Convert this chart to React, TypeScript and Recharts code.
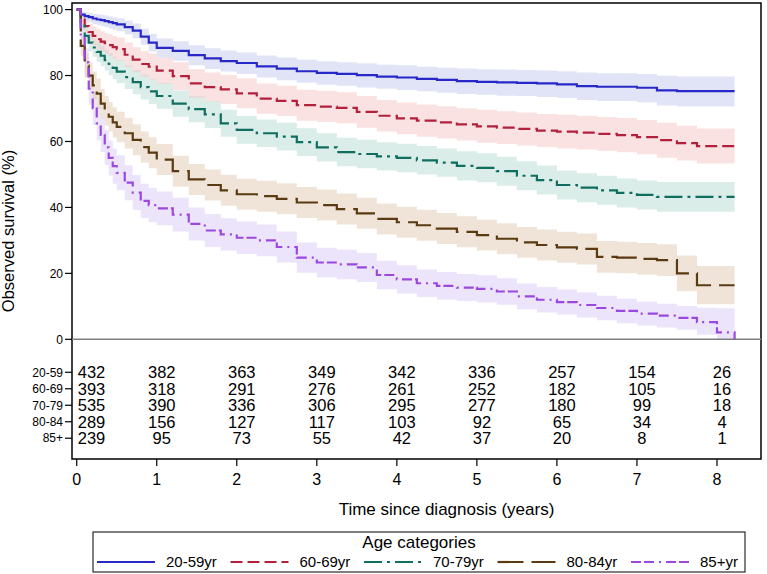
import React from "react";
import {
  ComposedChart, Line, Area, Scatter, XAxis, YAxis, ReferenceLine, ReferenceArea,
} from "recharts";

/* ── Kaplan-Meier estimates (%) ────────────────────────────── */
const TIME = [
  0, 0.05, 0.1, 0.15, 0.2, 0.25, 0.3, 0.35, 0.4, 0.45, 0.5, 0.6, 0.7, 0.8, 0.9, 1.0,
  1.2, 1.4, 1.6, 1.8, 2.0,
  2.25, 2.5, 2.75, 3.0, 3.25, 3.5, 3.75, 4.0, 4.25, 4.5, 4.75, 5.0,
  5.25, 5.5, 5.75, 6.0, 6.25, 6.5, 6.75, 7.0, 7.25, 7.5, 7.75, 8.0, 8.22,
];

const S_2059 = [100, 98.5, 98, 97.7, 97.3, 97, 96.8, 96.5, 96.2, 95.9, 95.5, 94.7, 93.6, 91.8, 90, 88.4, 87.5, 86.2, 85.2, 84.4, 83.8, 82.8, 82.1, 81.3, 80.8, 80.5, 80.1, 79.7, 79.4, 79, 78.7, 78.3, 78.1, 77.9, 77.8, 77.6, 77.3, 76.8, 76.6, 76.6, 76.3, 75.5, 75.3, 75.3, 75.3, 75.3];
const HI_2059 = [100, 99.5, 99.2, 99, 98.7, 98.6, 98.4, 98.2, 97.9, 97.7, 97.4, 96.7, 95.8, 94.2, 92.6, 91.2, 90.4, 89.2, 88.3, 87.6, 87, 86.1, 85.5, 84.8, 84.3, 84, 83.7, 83.3, 83.1, 82.7, 82.4, 82.1, 81.9, 81.8, 81.7, 81.5, 81.3, 80.9, 80.7, 80.7, 80.5, 79.9, 79.7, 79.7, 79.7, 79.7];
const LO_2059 = [100, 97.3, 96.6, 96.1, 95.6, 95.3, 95, 94.7, 94.3, 93.9, 93.4, 92.5, 91.3, 89.3, 87.3, 85.5, 84.5, 83.1, 82, 81.2, 80.5, 79.4, 78.6, 77.8, 77.2, 76.9, 76.4, 76, 75.6, 75.2, 74.8, 74.4, 74.2, 73.9, 73.8, 73.5, 73.2, 72.6, 72.3, 72.3, 71.9, 70.9, 70.6, 70.6, 70.6, 70.6];

const S_6069 = [100, 97, 95, 93.2, 92, 91, 90.3, 89.8, 89.2, 88.6, 88, 86.3, 84.8, 83.5, 82.7, 81.5, 79.8, 77.6, 76.5, 75.8, 74.6, 73, 72.3, 71, 70.6, 70.2, 69, 67.8, 67, 66.3, 65.8, 65.2, 64.6, 64.2, 63.8, 63.3, 63, 62.7, 62.3, 61.9, 61.3, 60.4, 59.5, 58.6, 58.6, 58.6];
const HI_6069 = [100, 98.6, 97.1, 95.7, 94.8, 94.1, 93.4, 93, 92.5, 92, 91.5, 90, 88.6, 87.4, 86.7, 85.5, 84, 81.9, 80.9, 80.2, 79.1, 77.6, 76.9, 75.7, 75.3, 74.9, 73.8, 72.6, 71.8, 71.2, 70.7, 70.1, 69.6, 69.2, 68.8, 68.3, 68.1, 67.8, 67.4, 67.1, 66.5, 65.7, 64.8, 63.9, 63.9, 63.9];
const LO_6069 = [100, 95.4, 92.9, 90.7, 89.2, 87.9, 87.2, 86.6, 85.9, 85.2, 84.5, 82.6, 81, 79.6, 78.7, 77.5, 75.6, 73.3, 72.1, 71.4, 70.1, 68.4, 67.7, 66.3, 65.9, 65.5, 64.2, 63, 62.2, 61.4, 60.9, 60.3, 59.6, 59.2, 58.8, 58.3, 57.9, 57.6, 57.2, 56.7, 56.1, 55.1, 54.2, 53.3, 53.3, 53.3];

const S_7079 = [100, 95.5, 92, 90, 88.5, 87.2, 86, 84.7, 83.5, 82.3, 81.2, 79.5, 78, 76.5, 75.2, 73.8, 71.5, 69.8, 68.2, 65.5, 63.5, 62.5, 61.5, 59.8, 58.2, 56.8, 56.2, 55.5, 55, 54.3, 53.6, 52.6, 52, 51, 49.6, 48.3, 46.8, 46, 45.2, 44.4, 43.8, 43.2, 43.2, 43.2, 43.2, 43.2];
const HI_7079 = [100, 97.3, 94.3, 92.6, 91.3, 90.2, 89.1, 87.9, 86.8, 85.7, 84.7, 83.1, 81.7, 80.3, 79, 77.7, 75.5, 73.8, 72.3, 69.6, 67.7, 66.7, 65.7, 64, 62.5, 61.1, 60.5, 59.8, 59.3, 58.6, 57.9, 57, 56.4, 55.4, 54, 52.7, 51.2, 50.4, 49.6, 48.8, 48.2, 47.7, 47.7, 47.7, 47.7, 47.7];
const LO_7079 = [100, 93.7, 89.7, 87.4, 85.7, 84.2, 82.9, 81.5, 80.2, 78.9, 77.7, 75.9, 74.3, 72.7, 71.4, 69.9, 67.5, 65.8, 64.1, 61.4, 59.3, 58.3, 57.3, 55.6, 53.9, 52.5, 51.9, 51.2, 50.7, 50, 49.3, 48.2, 47.6, 46.6, 45.2, 43.9, 42.4, 41.6, 40.8, 40, 39.4, 38.7, 38.7, 38.7, 38.7, 38.7];

const S_8084 = [100, 89, 83, 80, 77, 74.5, 71.5, 69.3, 67.5, 65.8, 64.4, 62.5, 60.5, 58.3, 56.6, 54.5, 51, 48.5, 46.8, 45.2, 44, 43.4, 42.6, 41.5, 40.7, 39.5, 38.2, 36.5, 35.5, 34.6, 33.6, 32.6, 31.6, 30.5, 29.4, 28.6, 27.9, 27.4, 25, 24.8, 24.4, 24, 20, 16.4, 16.4, 16.4];
const HI_8084 = [100, 92, 86.7, 84, 81.2, 79.1, 75.9, 73.8, 72, 70.4, 69, 67.1, 65.2, 63, 61.3, 59.2, 55.7, 53.2, 51.5, 49.9, 48.7, 48.1, 47.3, 46.2, 45.4, 44.2, 42.9, 41.2, 40.2, 39.3, 38.3, 37.3, 36.3, 35.2, 34.1, 33.3, 32.6, 32.1, 29.8, 29.6, 29.2, 28.8, 25.4, 22.2, 22.2, 22.2];
const LO_8084 = [100, 86, 79.3, 76, 72.8, 69.9, 67.1, 64.8, 63, 61.2, 59.8, 57.9, 55.8, 53.6, 51.9, 49.8, 46.3, 43.8, 42.1, 40.5, 39.3, 38.7, 37.9, 36.8, 36, 34.8, 33.5, 31.8, 30.8, 29.9, 28.9, 27.9, 26.9, 25.8, 24.7, 23.9, 23.2, 22.7, 20.2, 20, 19.6, 19.2, 14.6, 10.6, 10.6, 10.6];

const S_85 = [100, 92, 84, 76, 70, 65.5, 62, 58.2, 55, 52.5, 50.5, 47.5, 44.5, 42, 40.7, 39.7, 37.8, 35, 33, 31.8, 30.8, 30, 28, 24.8, 23.3, 22.7, 21.8, 19.5, 18.2, 17, 16.2, 15.7, 15.3, 14.5, 13, 12, 11.3, 10.4, 9.5, 8.6, 7.8, 7.2, 6.5, 5.2, 2.1, 0];
const HI_85 = [100, 95.5, 88.3, 80.8, 75, 70.6, 67.2, 63.5, 60.3, 57.8, 55.8, 52.8, 49.8, 47.2, 45.9, 44.8, 42.9, 40, 38, 36.7, 35.7, 34.8, 32.7, 29.4, 27.8, 27.2, 26.2, 23.8, 22.5, 21.2, 20.4, 19.8, 19.4, 18.5, 16.9, 15.9, 15.1, 14.2, 13.2, 12.3, 11.4, 10.8, 10.1, 9.6, 9.4, 9.4];
const LO_85 = [100, 88.5, 79.7, 71.2, 65, 60.4, 56.8, 52.9, 49.7, 47.2, 45.2, 42.2, 39.2, 36.8, 35.5, 34.6, 32.7, 30, 28, 26.9, 25.9, 25.2, 23.3, 20.2, 18.8, 18.2, 17.4, 15.2, 13.9, 12.8, 12, 11.6, 11.2, 10.5, 9.1, 8.1, 7.5, 6.6, 5.8, 4.9, 4.2, 3.6, 2.9, 1.4, 0, 0];

/* ── Number at risk ────────────────────────────────────────── */
const RISK_TIMES = [0, 1, 2, 3, 4, 5, 6, 7, 8];
const RISK_2059 = [432, 382, 363, 349, 342, 336, 257, 154, 26];
const RISK_6069 = [393, 318, 291, 276, 261, 252, 182, 105, 16];
const RISK_7079 = [535, 390, 336, 306, 295, 277, 180, 99, 18];
const RISK_8084 = [289, 156, 127, 117, 103, 92, 65, 34, 4];
const RISK_85 = [239, 95, 73, 55, 42, 37, 20, 8, 1];

const ROW_LABELS = ["20-59", "60-69", "70-79", "80-84", "85+"];
const Y_TICKS = [0, 20, 40, 60, 80, 100];
const X_TICKS = [0, 1, 2, 3, 4, 5, 6, 7, 8];

const FONT = "'Liberation Sans', Arial, Helvetica, sans-serif";
const X_MIN = -0.059;
const X_MAX = 8.55;
const Y_MIN = -36.3;
const Y_MAX = 102;
// rows of the risk table sit under the 0 line, 5 units apart
const rowY = (i: number) => -10 - 5 * i;

const groups = [
  { key: "g1", name: "20-59yr", color: "#2828c8", band: "#c3c9ed", dash: undefined, s: S_2059, lo: LO_2059, hi: HI_2059, risk: RISK_2059 },
  { key: "g2", name: "60-69yr", color: "#b2203c", band: "#f5c5c5", dash: "12 5", s: S_6069, lo: LO_6069, hi: HI_6069, risk: RISK_6069 },
  { key: "g3", name: "70-79yr", color: "#0f6e60", band: "#b5dbd3", dash: "18 5 3 5", s: S_7079, lo: LO_7079, hi: HI_7079, risk: RISK_7079 },
  { key: "g4", name: "80-84yr", color: "#5a3a10", band: "#e1c9b3", dash: "26 8", s: S_8084, lo: LO_8084, hi: HI_8084, risk: RISK_8084 },
  { key: "g5", name: "85+yr", color: "#9a48e0", band: "#d9c9f5", dash: "10 3 10 5 2 5", s: S_85, lo: LO_85, hi: HI_85, risk: RISK_85 },
];

const chartData = TIME.map((t, i) => {
  const row: Record<string, any> = { t };
  groups.forEach((g) => {
    row[g.key] = g.s[i];
    row[g.key + "ci"] = [g.lo[i], g.hi[i]];
  });
  return row;
});

const yTickFormat = (v: number) => {
  if (v < 0) return ROW_LABELS[Math.round((-v - 10) / 5)] ?? "";
  return String(v);
};

const XTitle = (props: any) => {
  const vb = props.viewBox || { x: 72, y: 459, width: 689 };
  return (
    <text x={vb.x + vb.width / 2 + 30} y={vb.y + 56} textAnchor="middle" fontFamily={FONT} fontSize={17} fill="#000">
      Time since diagnosis (years)
    </text>
  );
};

const YTitle = (props: any) => {
  const vb = props.viewBox || { x: 0, y: 3, width: 72, height: 456 };
  const cy = vb.y + vb.height / 2;
  return (
    <text x={14} y={cy} transform={`rotate(-90, 14, ${cy})`} textAnchor="middle" fontFamily={FONT} fontSize={16.5} fill="#000">
      Observed survival (%)
    </text>
  );
};

const riskShape = (props: any) => {
  const { cx, cy, payload } = props;
  const first = payload.t === 0;
  return (
    <text
      x={first ? cx + 1 : cx + 5}
      y={cy}
      dy="0.36em"
      textAnchor={first ? "start" : "middle"}
      fontFamily={FONT}
      fontSize={16.5}
      fill="#000"
    >
      {payload.n}
    </text>
  );
};

function LegendBox() {
  return (
    <svg width={767} height={574} style={{ position: "absolute", left: 0, top: 0, pointerEvents: "none" }}>
      <rect x={93} y={532} width={652} height={40} fill="#fff" stroke="#000" strokeWidth={1} />
      <text x={419} y={548} textAnchor="middle" fontFamily={FONT} fontSize={17} fill="#000">
        Age categories
      </text>
      {groups.map((g, i) => {
        const x0 = 97 + i * 133.5;
        return (
          <g key={g.key}>
            <line x1={x0} x2={x0 + 58} y1={562} y2={562} stroke={g.color} strokeWidth={2.2} strokeDasharray={g.dash} />
            <text x={x0 + 69} y={567} fontFamily={FONT} fontSize={15} fill="#000">
              {g.name}
            </text>
          </g>
        );
      })}
    </svg>
  );
}

export default function App() {
  return (
    <div style={{ position: "relative", width: 767, height: 574, background: "#fff" }}>
      <style>{"body{margin:0}"}</style>
      <ComposedChart
        width={767}
        height={574}
        data={chartData}
        margin={{ top: 3, right: 6, bottom: 0, left: 0 }}
      >
        <XAxis
          dataKey="t"
          type="number"
          domain={[X_MIN, X_MAX]}
          ticks={X_TICKS}
          interval={0}
          allowDataOverflow
          height={115}
          axisLine={false}
          tickSize={7}
          tickMargin={8}
          tickLine={{ stroke: "#000", strokeWidth: 1.2 }}
          tick={{ fontSize: 16, fill: "#000", fontFamily: FONT }}
          label={<XTitle />}
        />
        <YAxis
          type="number"
          domain={[Y_MIN, Y_MAX]}
          ticks={[...ROW_LABELS.map((_, i) => rowY(i)), ...Y_TICKS]}
          interval={0}
          allowDataOverflow
          width={72}
          axisLine={false}
          tickSize={7}
          tickMargin={2}
          tickLine={{ stroke: "#000", strokeWidth: 1.2 }}
          tick={{ fontSize: 12, fill: "#000", fontFamily: FONT }}
          tickFormatter={yTickFormat}
          label={<YTitle />}
        />

        {[...groups].reverse().map((g) => (
          <Area
            key={g.key + "ci"}
            dataKey={g.key + "ci"}
            type="stepAfter"
            stroke="none"
            fill={g.band}
            fillOpacity={0.5}
            isAnimationActive={false}
            activeDot={false}
          />
        ))}

        <ReferenceLine y={0} stroke="#808080" strokeWidth={1.5} />

        {groups.map((g) => (
          <Line
            key={g.key}
            dataKey={g.key}
            type="stepAfter"
            stroke={g.color}
            strokeWidth={2.2}
            strokeDasharray={g.dash}
            dot={false}
            activeDot={false}
            isAnimationActive={false}
          />
        ))}

        {groups.map((g, i) => (
          <Scatter
            key={g.key + "risk"}
            data={RISK_TIMES.map((t, j) => ({ t, y: rowY(i), n: g.risk[j] }))}
            dataKey="y"
            shape={riskShape}
            isAnimationActive={false}
          />
        ))}

        <ReferenceArea
          x1={X_MIN}
          x2={X_MAX}
          y1={Y_MIN}
          y2={Y_MAX}
          fill="none"
          stroke="#000"
          strokeWidth={1.5}
          ifOverflow="visible"
        />
      </ComposedChart>
      <LegendBox />
    </div>
  );
}
